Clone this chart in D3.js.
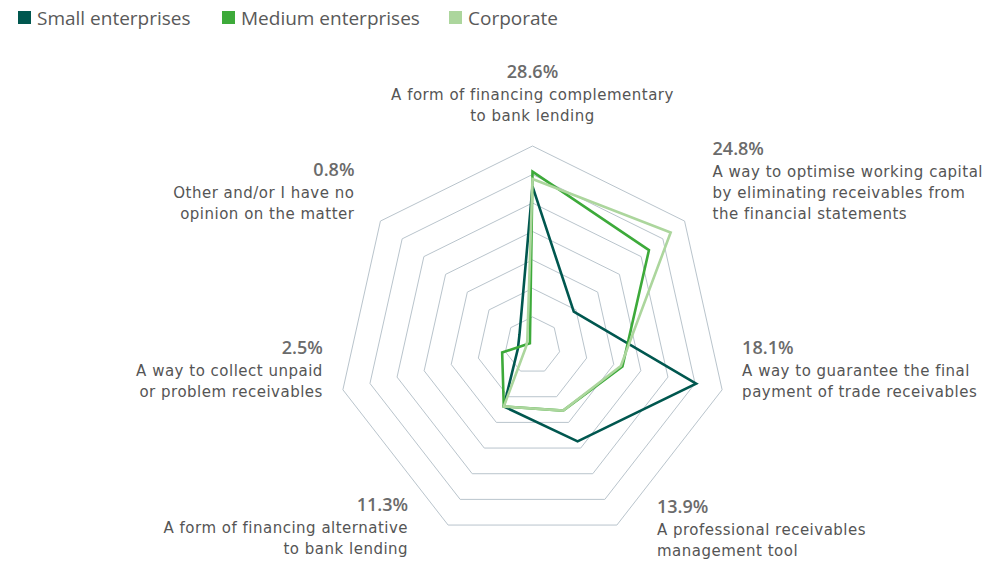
<!DOCTYPE html>
<html>
<head>
<meta charset="utf-8">
<script src="https://cdn.jsdelivr.net/npm/d3@7"></script>
<style>
  html, body { margin: 0; padding: 0; background: #ffffff; }
  svg { display: block; font-family: "Open Sans", "Noto Sans", sans-serif; }
  .line { font-family: "DejaVu Sans", "Open Sans", sans-serif; letter-spacing: 0.5px; }
</style>
</head>
<body>
<svg id="chart" width="1007" height="561"></svg>
<script>
// Perceived roles of factoring, share of answers (%) by company size
const axisLabels = [
  ["A form of financing complementary", "to bank lending"],
  ["A way to optimise working capital", "by eliminating receivables from", "the financial statements"],
  ["A way to guarantee the final", "payment of trade receivables"],
  ["A professional receivables", "management tool"],
  ["A form of financing alternative", "to bank lending"],
  ["A way to collect unpaid", "or problem receivables"],
  ["Other and/or I have no", "opinion on the matter"]
];
const totals = [28.6, 24.8, 18.1, 13.9, 11.3, 2.5, 0.8];

const seriesNames = ["Small enterprises", "Medium enterprises", "Corporate"];
const smallValues     = [27.9, 9.5, 30.2, 18.7, 11.9, 2.7, 3.0];
const mediumValues    = [30.5, 26.8, 16.6, 12.7, 11.9, 5.6, 0.6];
const corporateValues = [29.2, 31.8, 16.3, 12.7, 11.9, 1.2, 1.2];
const gridLevels = [5, 10, 15, 20, 25, 30, 35];

const seriesColors = ["#00574f", "#3daa3a", "#acd69d"];
const series = [smallValues, mediumValues, corporateValues];

const svg = d3.select("#chart");
const cx = 532.5, cy = 345.4;
const rx = d3.scaleLinear().domain([0, 35]).range([0, 194.5]);
const ry = d3.scaleLinear().domain([0, 35]).range([0, 199.4]);
const angle = d3.scaleLinear().domain([0, axisLabels.length]).range([0, 2 * Math.PI]);

const pt = (i, v) => [cx + rx(v) * Math.sin(angle(i)), cy - ry(v) * Math.cos(angle(i))];
const ring = v => d3.range(axisLabels.length).map(i => pt(i, v));
const closed = d3.line().curve(d3.curveLinearClosed);

// concentric heptagon grid
svg.append("g").selectAll("path")
  .data(gridLevels)
  .join("path")
  .attr("d", v => closed(ring(v)))
  .attr("fill", "none")
  .attr("stroke", "#b9c4cc")
  .attr("stroke-width", 1);

// series outlines
svg.append("g").selectAll("path")
  .data(series)
  .join("path")
  .attr("d", vals => closed(vals.map((v, i) => pt(i, v))))
  .attr("fill", "none")
  .attr("stroke", (d, k) => seriesColors[k])
  .attr("stroke-width", 2.6)
  .attr("stroke-linejoin", "miter");

// axis labels placed around the outer ring
const labelLayout = [
  { dx: 0,   dy: -68, anchor: "middle" },
  { dx: 28,  dy: -66, anchor: "start" },
  { dx: 20,  dy: -36, anchor: "start" },
  { dx: 40,  dy: -12, anchor: "start" },
  { dx: -40, dy: -14, anchor: "end" },
  { dx: -20, dy: -36, anchor: "end" },
  { dx: -26, dy: -45, anchor: "end" }
];
const fmt = d3.format(".1f");
const labels = svg.append("g").selectAll("g")
  .data(axisLabels)
  .join("g")
  .attr("transform", (d, i) => {
    const [x, y] = pt(i, 35);
    return `translate(${x + labelLayout[i].dx},${y + labelLayout[i].dy})`;
  })
  .attr("text-anchor", (d, i) => labelLayout[i].anchor);

labels.append("text")
  .attr("font-size", 18)
  .attr("font-weight", 600)
  .attr("fill", "#6b6b6b")
  .text((d, i) => fmt(totals[i]) + "%");

labels.each(function (lines) {
  d3.select(this).selectAll("text.line")
    .data(lines)
    .join("text")
    .attr("class", "line")
    .attr("y", (d, j) => 22 + j * 21)
    .attr("font-size", 15)
    .attr("fill", "#555555")
    .text(d => d);
});

// legend
const legendX = [18, 222, 449];
const legend = svg.append("g").selectAll("g")
  .data(seriesNames)
  .join("g")
  .attr("transform", (d, k) => `translate(${legendX[k]},0)`);
legend.append("rect")
  .attr("x", 0).attr("y", 11)
  .attr("width", 13).attr("height", 13)
  .attr("fill", (d, k) => seriesColors[k]);
legend.append("text")
  .attr("x", 19).attr("y", 24.5)
  .attr("font-size", 19)
  .attr("fill", "#595959")
  .text(d => d);
</script>
</body>
</html>
